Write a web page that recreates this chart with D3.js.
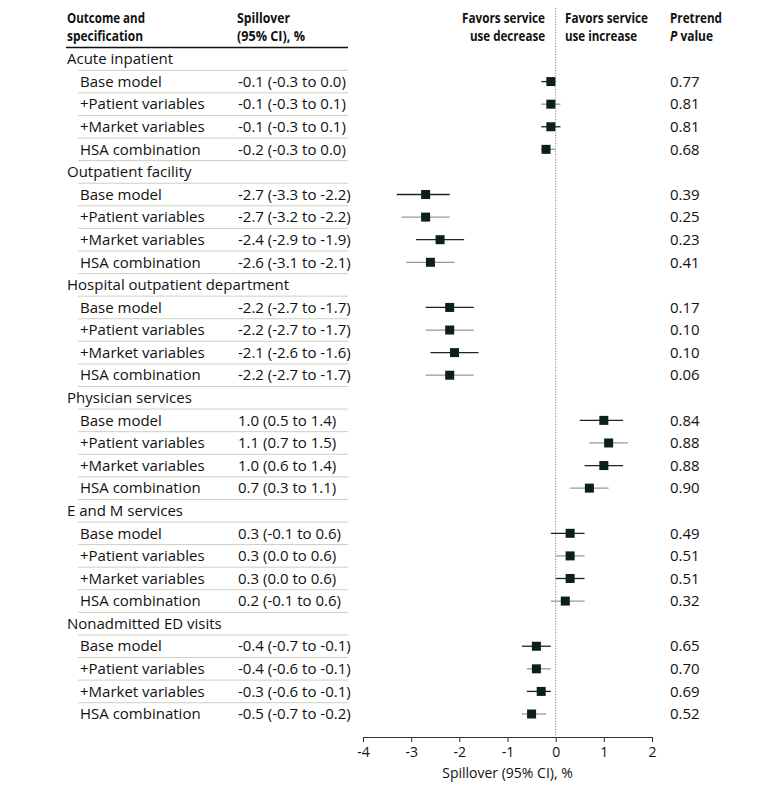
<!DOCTYPE html>
<html><head><meta charset="utf-8">
<script src="https://cdn.jsdelivr.net/npm/d3@7"></script>
<style>body{margin:0;background:#fff}svg{display:block}text{font-family:"Open Sans",sans-serif;fill:#111}</style>
</head><body><svg id="c" width="780" height="789"></svg>
<script>
const groups = ["Acute inpatient","Outpatient facility","Hospital outpatient department","Physician services","E and M services","Nonadmitted ED visits"];
const specs = ["Base model","+Patient variables","+Market variables","HSA combination"];
const estimates = [
  [-0.1,-0.1,-0.1,-0.2],
  [-2.7,-2.7,-2.4,-2.6],
  [-2.2,-2.2,-2.1,-2.2],
  [1.0,1.1,1.0,0.7],
  [0.3,0.3,0.3,0.2],
  [-0.4,-0.4,-0.3,-0.5]
];
const lower = [
  [-0.3,-0.3,-0.3,-0.3],
  [-3.3,-3.2,-2.9,-3.1],
  [-2.7,-2.7,-2.6,-2.7],
  [0.5,0.7,0.6,0.3],
  [-0.1,0.0,0.0,-0.1],
  [-0.7,-0.6,-0.6,-0.7]
];
const upper = [
  [0.0,0.1,0.1,0.0],
  [-2.2,-2.2,-1.9,-2.1],
  [-1.7,-1.7,-1.6,-1.7],
  [1.4,1.5,1.4,1.1],
  [0.6,0.6,0.6,0.6],
  [-0.1,-0.1,-0.1,-0.2]
];
const pvalues = [
  ["0.77","0.81","0.81","0.68"],
  ["0.39","0.25","0.23","0.41"],
  ["0.17","0.10","0.10","0.06"],
  ["0.84","0.88","0.88","0.90"],
  ["0.49","0.51","0.51","0.32"],
  ["0.65","0.70","0.69","0.52"]
];
const xTicks = [-4,-3,-2,-1,0,1,2];

const fmt = v => (v<0?"-":"")+Math.abs(v).toFixed(1);
const rows = [];
groups.forEach((g,gi)=>{
  rows.push({type:"group",label:g});
  specs.forEach((s,si)=>rows.push({type:"sub",label:s,est:estimates[gi][si],lo:lower[gi][si],hi:upper[gi][si],p:pvalues[gi][si],si}));
});

const svg = d3.select("#c");
const x = d3.scaleLinear().domain([-4,2]).range([363,652]);
const y = d3.scaleLinear().domain([0,rows.length-1]).range([59,714]);
const rowH = y(1)-y(0);
const fs = 15;

// headers (condensed bold, fitted to widths)
const hdr = svg.append("g").attr("font-weight","bold").attr("font-size",14.5);
function ht(xp, yp, txt, len, anchor){
  const t = hdr.append("text").attr("x",xp).attr("y",yp).attr("textLength",len).attr("lengthAdjust","spacingAndGlyphs").text(txt);
  if(anchor) t.attr("text-anchor",anchor);
  return t;
}
ht(67,23,"Outcome and",78);
ht(67,41,"specification",76);
ht(237,23,"Spillover",53);
ht(237,41,"(95% CI), %",68);
ht(462,23,"Favors service",83);
ht(470,41,"use decrease",75);
ht(565,23,"Favors service",83);
ht(565,41,"use increase",72);
ht(670,23,"Pretrend",52);
const pv = hdr.append("text").attr("x",670).attr("y",41).attr("textLength",43).attr("lengthAdjust","spacingAndGlyphs");
pv.append("tspan").attr("font-style","italic").text("P");
pv.append("tspan").text(" value");

svg.append("line").attr("x1",66).attr("x2",348).attr("y1",47.5).attr("y2",47.5).attr("stroke","#111").attr("stroke-width",1.5);

// separators
rows.forEach((r,i)=>{
  if(i<rows.length-1){
    svg.append("line").attr("x1",78).attr("x2",348).attr("y1",y(i)+rowH/2).attr("y2",y(i)+rowH/2)
      .attr("stroke","#cfcfbf").attr("stroke-width",1);
  }
});

// zero line
svg.append("line").attr("x1",x(0)).attr("x2",x(0)).attr("y1",8).attr("y2",737)
  .attr("stroke","#888").attr("stroke-width",1).attr("stroke-dasharray","1.2,1.5");

// rows
const rg = svg.append("g").attr("font-size",fs);
rows.forEach((r,i)=>{
  const cy = y(i);
  if(r.type==="group"){
    rg.append("text").attr("x",67).attr("y",cy).attr("dy","0.35em").text(r.label);
  } else {
    rg.append("text").attr("x",80).attr("y",cy).attr("dy","0.35em").text(r.label);
    rg.append("text").attr("x",238).attr("y",cy).attr("dy","0.35em").text(`${fmt(r.est)} (${fmt(r.lo)} to ${fmt(r.hi)})`);
    rg.append("text").attr("x",670).attr("y",cy).attr("dy","0.35em").text(r.p);
    svg.append("line").attr("x1",x(r.lo)).attr("x2",x(r.hi)).attr("y1",cy).attr("y2",cy)
      .attr("stroke",r.si%2===0?"#222":"#999").attr("stroke-width",1.3);
    svg.append("rect").attr("x",x(r.est)-4.5).attr("y",cy-4.5).attr("width",9).attr("height",9).attr("fill","#0c1f1f");
  }
});

// axis
const ax = svg.append("g").attr("transform","translate(0,737)")
  .call(d3.axisBottom(x).tickValues(xTicks).tickFormat(d=>d<0?"-"+Math.abs(d):d).tickSize(5).tickSizeOuter(0));
ax.select(".domain").attr("stroke","#333");
ax.selectAll(".tick line").attr("stroke","#333");
ax.selectAll(".tick text").attr("font-size",14).attr("font-family","'Open Sans',sans-serif").attr("fill","#111").attr("dy","0.85em");
svg.append("text").attr("x",x(-1)).attr("y",778).attr("text-anchor","middle").attr("font-size",14).text("Spillover (95% CI), %");
</script></body></html>
